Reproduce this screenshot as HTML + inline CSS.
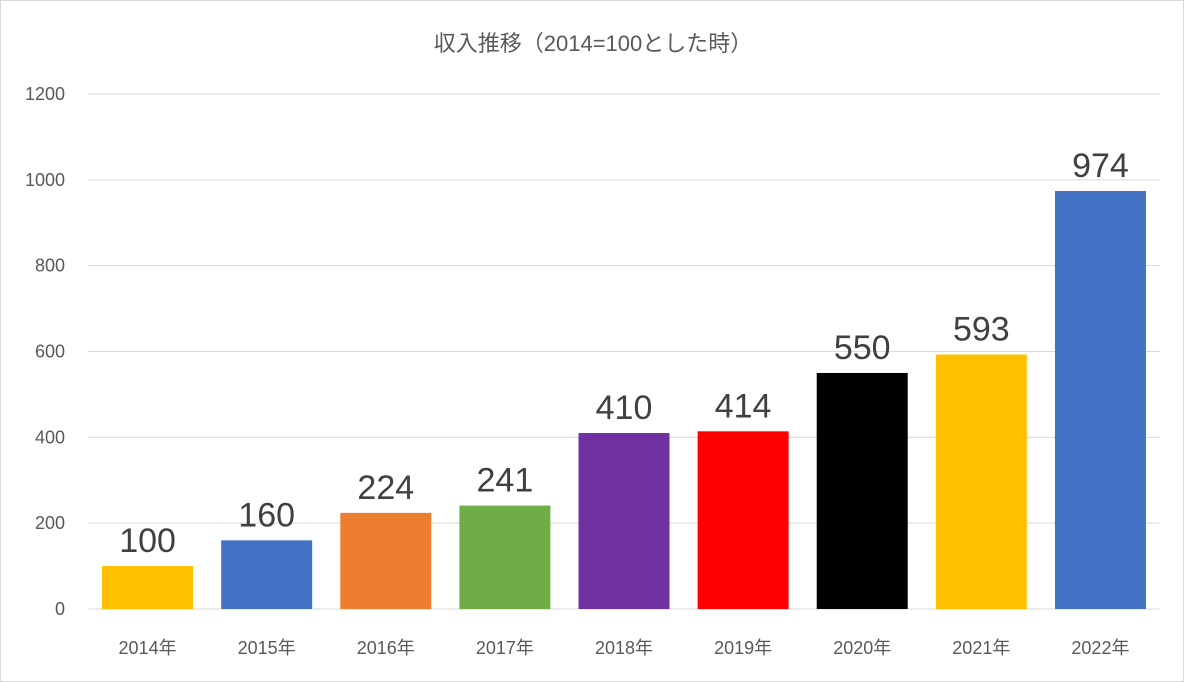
<!DOCTYPE html>
<html><head><meta charset="utf-8"><style>
html,body{margin:0;padding:0;background:#fff;}
#wrap{position:relative;width:1182px;height:680px;border:1px solid #d9d9d9;background:#fff;overflow:hidden;}
svg text{font-family:"Liberation Sans","Noto Sans CJK JP",sans-serif;}
</style></head><body>
<div id="wrap">
<svg id="chart" width="1182" height="680">
<text x="592" y="50" text-anchor="middle" font-size="22" fill="#595959">収入推移（2014=100とした時）</text>
</svg>
</div>
<script>
const categories = ["2014年","2015年","2016年","2017年","2018年","2019年","2020年","2021年","2022年"];
const values = [100,160,224,241,410,414,550,593,974];
const barColors = ["#FFC000","#4472C4","#ED7D31","#70AD47","#7030A0","#FF0000","#000000","#FFC000","#4472C4"];
const yTicks = [0,200,400,600,800,1000,1200];

const svg = document.getElementById('chart');
const NS = 'http://www.w3.org/2000/svg';
const x0 = 87, x1 = 1159, yBase = 608, yTop = 93, yMax = 1200;
const band = (x1 - x0) / categories.length;
const barW = 91;
function yScale(v){ return yBase - (v / yMax) * (yBase - yTop); }
function xCenter(i){ return x0 + band * (i + 0.5); }

yTicks.forEach(t => {
  const y = yScale(t);
  const l = document.createElementNS(NS,'line');
  l.setAttribute('x1',x0); l.setAttribute('x2',x1); l.setAttribute('y1',y); l.setAttribute('y2',y);
  l.setAttribute('stroke', t===0 ? '#d9d9d9' : '#d9d9d9'); l.setAttribute('stroke-width','1');
  
  
  svg.appendChild(l);
  const tx = document.createElementNS(NS,'text');
  tx.setAttribute('x', 64); tx.setAttribute('y', y + 6);
  tx.setAttribute('text-anchor','end'); tx.setAttribute('font-size','18'); tx.setAttribute('fill','#595959');
  tx.textContent = t;
  
  
  svg.appendChild(tx);
});

categories.forEach((c,i) => {
  const cx = xCenter(i);
  const y = yScale(values[i]);
  const r = document.createElementNS(NS,'rect');
  r.setAttribute('x', cx - barW/2); r.setAttribute('y', y);
  r.setAttribute('width', barW); r.setAttribute('height', yBase - y);
  r.setAttribute('fill', barColors[i]);
  
  
  svg.appendChild(r);
  const v = document.createElementNS(NS,'text');
  v.setAttribute('x', cx); v.setAttribute('y', y - 14);
  v.setAttribute('text-anchor','middle'); v.setAttribute('font-size','34'); v.setAttribute('fill','#404040');
  v.textContent = values[i];
  
  
  svg.appendChild(v);
  const cl = document.createElementNS(NS,'text');
  cl.setAttribute('x', cx); cl.setAttribute('y', 653);
  cl.setAttribute('text-anchor','middle'); cl.setAttribute('font-size','18'); cl.setAttribute('fill','#595959');
  cl.textContent = c;
  
  
  svg.appendChild(cl);
});
</script>
</body></html>
